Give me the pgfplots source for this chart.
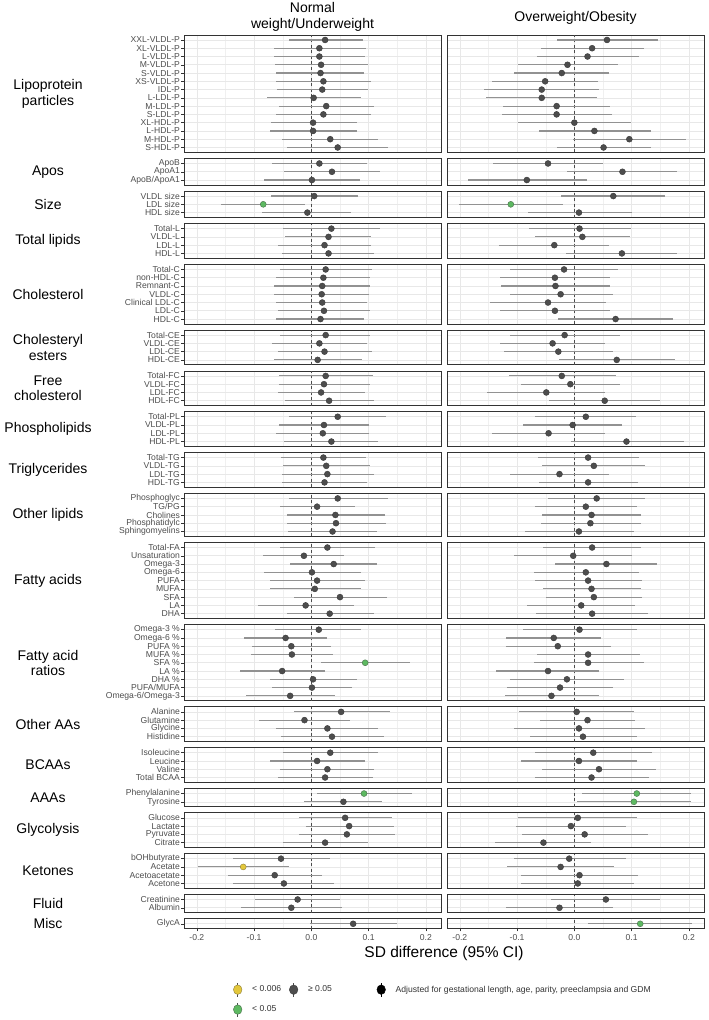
\documentclass[border=0pt]{standalone}
\usepackage{pgfplots}
\pgfplotsset{compat=1.18}
\usepackage{pgfplotstable}
\usepackage{fontspec}
\setmainfont{Liberation Sans}

\definecolor{ptgray}{HTML}{4D4D4D}
\definecolor{ptedge}{HTML}{3A3A3A}
\definecolor{cigray}{HTML}{929292}
\definecolor{sigg}{HTML}{5DB961}
\definecolor{sigy}{HTML}{E3C73B}
\definecolor{txtgray}{HTML}{4D4D4D}

\newcommand{\rowfont}{\fontsize{8.6}{8.6}\selectfont}
\newcommand{\grpfont}{\fontsize{14}{15.5}\selectfont}

\pgfplotsset{
  panel/.style={
    scale only axis, width=257pt, y=8.27pt,
    xmin=-0.2224, xmax=0.2264, ymin=0.4,
    anchor=north west,
    axis line style={draw=black!80, line width=0.9pt},
    xtick={-0.2,-0.1,0,0.1,0.2}, minor xtick={-0.15,-0.05,0.05,0.15},
    xticklabels={},
    xtick pos=bottom, ytick pos=left, tick align=outside,
    grid=both,
    major grid style={draw=black!9, line width=0.6pt},
    minor grid style={draw=black!6, line width=0.35pt},
    tick style={draw=none},
    major tick length=2.7pt, minor tick length=0pt,
    extra x ticks={0}, extra x tick labels={},
    extra x tick style={grid=major, major grid style={draw=black!70, dash pattern=on 3pt off 2.5pt, line width=0.55pt}},
    yticklabel style={font=\rowfont, color=txtgray, inner sep=1.2pt},
    xticklabel style={font=\rowfont, color=txtgray},
  },
  midpanel/.style={},
  botpanel/.style={xticklabels={-0.2,-0.1,0.0,0.1,0.2}, x tick style={draw=black!80, line width=0.5pt}},
  cibar/.style={only marks, mark=none, forget plot,
    error bars/.cd, x dir=both, x explicit, error mark=none,
    error bar style={draw=cigray, line width=1.15pt}},
  pts/.style={scatter, only marks, scatter src=explicit symbolic, mark size=3pt,
    scatter/classes={
      n={mark=*, draw=ptedge, fill=ptgray, line width=0.4pt},
      g={mark=*, draw=ptedge!60!sigg, fill=sigg, line width=0.4pt},
      y={mark=*, draw=ptedge!50!sigy, fill=sigy, line width=0.4pt}}},
}

\newcommand{\pp}[5]{%
  \pgfmathsetmacro{\ymx}{#2+0.6}
  \begin{axis}[panel, at={(184pt,-#3pt)}, ymax=\ymx, ytick={1,...,#2}, yticklabels={#4},
      y tick style={draw=black!80, line width=0.5pt}, #5]
    \addplot[cibar] table[x=a, y=y, x error plus expr=\thisrow{ahi}-\thisrow{a}, x error minus expr=\thisrow{a}-\thisrow{alo}] {#1};
    \addplot[pts] table[x=a, y=y, meta=as] {#1};
  \end{axis}
  \begin{axis}[panel, at={(447pt,-#3pt)}, ymax=\ymx, ytick={1,...,#2}, yticklabels={}, #5]
    \addplot[cibar] table[x=b, y=y, x error plus expr=\thisrow{bhi}-\thisrow{b}, x error minus expr=\thisrow{b}-\thisrow{blo}] {#1};
    \addplot[pts] table[x=b, y=y, meta=bs] {#1};
  \end{axis}}

% columns: y, Normal weight (a, alo, ahi, as), Overweight (b, blo, bhi, bs)
\pgfplotstableread{
y a alo ahi as b blo bhi bs
14 0.024 -0.039 0.091 n 0.057 -0.031 0.146 n
13 0.014 -0.066 0.095 n 0.031 -0.058 0.121 n
12 0.014 -0.065 0.093 n 0.023 -0.066 0.113 n
11 0.017 -0.064 0.099 n -0.012 -0.098 0.076 n
10 0.016 -0.061 0.092 n -0.022 -0.105 0.061 n
9 0.021 -0.061 0.105 n -0.051 -0.143 0.041 n
8 0.019 -0.060 0.099 n -0.057 -0.157 0.043 n
7 0.004 -0.078 0.087 n -0.057 -0.155 0.040 n
6 0.026 -0.056 0.109 n -0.031 -0.125 0.062 n
5 0.021 -0.062 0.104 n -0.031 -0.127 0.066 n
4 0.003 -0.071 0.080 n 0.000 -0.098 0.099 n
3 0.003 -0.072 0.080 n 0.035 -0.061 0.133 n
2 0.033 -0.051 0.117 n 0.096 -0.002 0.195 n
1 0.046 -0.042 0.134 n 0.051 -0.031 0.134 n
}\tLipo
\pgfplotstableread{
y a alo ahi as b blo bhi bs
3 0.014 -0.069 0.098 n -0.046 -0.142 0.050 n
2 0.036 -0.047 0.120 n 0.084 -0.012 0.180 n
1 0.001 -0.082 0.085 n -0.083 -0.186 0.022 n
}\tApos
\pgfplotstableread{
y a alo ahi as b blo bhi bs
3 0.005 -0.071 0.081 n 0.068 -0.023 0.159 n
2 -0.084 -0.157 -0.011 g -0.111 -0.202 -0.020 g
1 -0.007 -0.086 0.070 n 0.008 -0.081 0.100 n
}\tSize
\pgfplotstableread{
y a alo ahi as b blo bhi bs
4 0.035 -0.050 0.120 n 0.009 -0.079 0.099 n
3 0.030 -0.046 0.105 n 0.014 -0.069 0.098 n
2 0.023 -0.058 0.104 n -0.035 -0.131 0.060 n
1 0.030 -0.051 0.110 n 0.083 -0.015 0.180 n
}\tTL
\pgfplotstableread{
y a alo ahi as b blo bhi bs
7 0.025 -0.054 0.106 n -0.018 -0.113 0.076 n
6 0.021 -0.062 0.102 n -0.034 -0.130 0.062 n
5 0.019 -0.065 0.102 n -0.033 -0.128 0.062 n
4 0.018 -0.065 0.100 n -0.024 -0.113 0.067 n
3 0.019 -0.061 0.098 n -0.046 -0.148 0.056 n
2 0.022 -0.058 0.102 n -0.034 -0.130 0.063 n
1 0.016 -0.062 0.092 n 0.072 -0.028 0.172 n
}\tChol
\pgfplotstableread{
y a alo ahi as b blo bhi bs
4 0.025 -0.054 0.103 n -0.017 -0.112 0.079 n
3 0.014 -0.069 0.097 n -0.038 -0.130 0.054 n
2 0.023 -0.058 0.106 n -0.028 -0.122 0.067 n
1 0.011 -0.066 0.089 n 0.074 -0.026 0.175 n
}\tCE
\pgfplotstableread{
y a alo ahi as b blo bhi bs
4 0.025 -0.057 0.107 n -0.022 -0.115 0.072 n
3 0.022 -0.057 0.102 n -0.007 -0.093 0.080 n
2 0.017 -0.059 0.093 n -0.049 -0.153 0.054 n
1 0.031 -0.046 0.109 n 0.053 -0.045 0.150 n
}\tFC
\pgfplotstableread{
y a alo ahi as b blo bhi bs
4 0.046 -0.039 0.130 n 0.020 -0.068 0.108 n
3 0.022 -0.057 0.100 n -0.003 -0.090 0.083 n
2 0.020 -0.061 0.101 n -0.045 -0.143 0.053 n
1 0.035 -0.048 0.117 n 0.091 -0.006 0.191 n
}\tPL
\pgfplotstableread{
y a alo ahi as b blo bhi bs
4 0.021 -0.053 0.095 n 0.024 -0.063 0.113 n
3 0.026 -0.049 0.102 n 0.034 -0.056 0.124 n
2 0.028 -0.052 0.109 n -0.026 -0.113 0.061 n
1 0.023 -0.051 0.098 n 0.024 -0.062 0.111 n
}\tTG
\pgfplotstableread{
y a alo ahi as b blo bhi bs
5 0.046 -0.039 0.133 n 0.039 -0.046 0.124 n
4 0.010 -0.055 0.076 n 0.020 -0.069 0.109 n
3 0.042 -0.043 0.128 n 0.030 -0.056 0.117 n
2 0.043 -0.042 0.130 n 0.028 -0.059 0.116 n
1 0.037 -0.041 0.114 n 0.008 -0.087 0.104 n
}\tOL
\pgfplotstableread{
y a alo ahi as b blo bhi bs
9 0.028 -0.054 0.111 n 0.031 -0.055 0.117 n
8 -0.013 -0.084 0.057 n -0.002 -0.105 0.100 n
7 0.039 -0.037 0.115 n 0.056 -0.033 0.145 n
6 0.001 -0.083 0.086 n 0.020 -0.071 0.113 n
5 0.010 -0.072 0.093 n 0.024 -0.069 0.118 n
4 0.006 -0.073 0.086 n 0.030 -0.055 0.116 n
3 0.050 -0.031 0.132 n 0.034 -0.050 0.118 n
2 -0.010 -0.094 0.074 n 0.012 -0.083 0.106 n
1 0.032 -0.043 0.109 n 0.031 -0.067 0.128 n
}\tFA
\pgfplotstableread{
y a alo ahi as b blo bhi bs
9 0.013 -0.063 0.087 n 0.009 -0.090 0.110 n
8 -0.045 -0.117 0.027 n -0.036 -0.119 0.046 n
7 -0.035 -0.104 0.035 n -0.029 -0.120 0.064 n
6 -0.034 -0.105 0.038 n 0.024 -0.065 0.115 n
5 0.094 0.017 0.172 g 0.024 -0.071 0.121 n
4 -0.051 -0.125 0.023 n -0.046 -0.136 0.043 n
3 0.003 -0.072 0.080 n -0.013 -0.113 0.087 n
2 0.001 -0.069 0.071 n -0.025 -0.117 0.068 n
1 -0.037 -0.114 0.041 n -0.040 -0.121 0.043 n
}\tFAR
\pgfplotstableread{
y a alo ahi as b blo bhi bs
4 0.052 -0.031 0.138 n 0.004 -0.096 0.104 n
3 -0.012 -0.091 0.068 n 0.023 -0.060 0.106 n
2 0.028 -0.062 0.117 n 0.008 -0.105 0.123 n
1 0.036 -0.053 0.126 n 0.015 -0.077 0.109 n
}\tOAA
\pgfplotstableread{
y a alo ahi as b blo bhi bs
4 0.033 -0.049 0.116 n 0.033 -0.068 0.135 n
3 0.010 -0.072 0.093 n 0.008 -0.093 0.109 n
2 0.028 -0.055 0.110 n 0.043 -0.057 0.143 n
1 0.024 -0.059 0.108 n 0.030 -0.069 0.130 n
}\tBCAA
\pgfplotstableread{
y a alo ahi as b blo bhi bs
2 0.092 0.010 0.175 g 0.109 0.014 0.203 g
1 0.056 -0.012 0.124 n 0.104 0.004 0.203 g
}\tAAA
\pgfplotstableread{
y a alo ahi as b blo bhi bs
4 0.059 -0.021 0.141 n 0.006 -0.098 0.109 n
3 0.066 -0.010 0.144 n -0.006 -0.102 0.091 n
2 0.062 -0.022 0.146 n 0.018 -0.091 0.128 n
1 0.024 -0.050 0.099 n -0.054 -0.138 0.029 n
}\tGly
\pgfplotstableread{
y a alo ahi as b blo bhi bs
4 -0.053 -0.136 0.032 n -0.009 -0.106 0.091 n
3 -0.119 -0.198 -0.039 y -0.024 -0.117 0.070 n
2 -0.064 -0.146 0.019 n 0.009 -0.094 0.111 n
1 -0.048 -0.136 0.039 n 0.006 -0.093 0.105 n
}\tKet
\pgfplotstableread{
y a alo ahi as b blo bhi bs
2 -0.024 -0.098 0.050 n 0.055 -0.040 0.150 n
1 -0.035 -0.122 0.054 n -0.026 -0.119 0.068 n
}\tFluid
\pgfplotstableread{
y a alo ahi as b blo bhi bs
1 0.073 -0.003 0.150 n 0.115 0.023 0.206 g
}\tMisc

\begin{document}
\begin{tikzpicture}
\useasboundingbox (0pt,0pt) rectangle (709pt,-1020pt);

% column titles
\node[align=center, font=\fontsize{14}{16}\selectfont] at (312.5pt,-17pt) {Normal\\weight/Underweight};
\node[font=\fontsize{14}{16}\selectfont] at (575.5pt,-18.3pt) {Overweight/Obesity};

\pp{\tLipo}{14}{35.00}{S-HDL-P,M-HDL-P,L-HDL-P,XL-HDL-P,S-LDL-P,M-LDL-P,L-LDL-P,IDL-P,XS-VLDL-P,S-VLDL-P,M-VLDL-P,L-VLDL-P,XL-VLDL-P,XXL-VLDL-P}{midpanel}
\pp{\tApos}{3}{158.53}{ApoB/ApoA1,ApoA1,ApoB}{midpanel}
\pp{\tSize}{3}{191.09}{HDL size,LDL size,VLDL size}{midpanel}
\pp{\tTL}{4}{223.65}{HDL-L,LDL-L,VLDL-L,Total-L}{midpanel}
\pp{\tChol}{7}{264.48}{HDL-C,LDL-C,Clinical LDL-C,VLDL-C,Remnant-C,non-HDL-C,Total-C}{midpanel}
\pp{\tCE}{4}{330.12}{HDL-CE,LDL-CE,VLDL-CE,Total-CE}{midpanel}
\pp{\tFC}{4}{370.95}{HDL-FC,LDL-FC,VLDL-FC,Total-FC}{midpanel}
\pp{\tPL}{4}{411.78}{HDL-PL,LDL-PL,VLDL-PL,Total-PL}{midpanel}
\pp{\tTG}{4}{452.61}{HDL-TG,LDL-TG,VLDL-TG,Total-TG}{midpanel}
\pp{\tOL}{5}{493.44}{Sphingomyelins,Phosphatidylc,Cholines,TG/PG,Phosphoglyc}{midpanel}
\pp{\tFA}{9}{542.54}{DHA,LA,SFA,MUFA,PUFA,Omega-6,Omega-3,Unsaturation,Total-FA}{midpanel}
\pp{\tFAR}{9}{624.72}{Omega-6/Omega-3,PUFA/MUFA,DHA \%,LA \%,SFA \%,MUFA \%,PUFA \%,Omega-6 \%,Omega-3 \%}{midpanel}
\pp{\tOAA}{4}{706.90}{Histidine,Glycine,Glutamine,Alanine}{midpanel}
\pp{\tBCAA}{4}{747.73}{Total BCAA,Valine,Leucine,Isoleucine}{midpanel}
\pp{\tAAA}{2}{788.56}{Tyrosine,Phenylalanine}{midpanel}
\pp{\tGly}{4}{812.85}{Citrate,Pyruvate,Lactate,Glucose}{midpanel}
\pp{\tKet}{4}{853.68}{Acetone,Acetoacetate,Acetate,bOHbutyrate}{midpanel}
\pp{\tFluid}{2}{894.51}{Albumin,Creatinine}{midpanel}
\pp{\tMisc}{1}{918.80}{GlycA}{botpanel}

% group labels
\begin{scope}[every node/.style={align=center, font=\grpfont}]
\node at (48pt,-93.72pt) {Lipoprotein\\particles};
\node at (48pt,-171.76pt) {Apos};
\node at (48pt,-204.32pt) {Size};
\node at (48pt,-241.02pt) {Total lipids};
\node at (48pt,-294.25pt) {Cholesterol};
\node at (48pt,-347.49pt) {Cholesteryl\\esters};
\node at (48pt,-388.32pt) {Free\\cholesterol};
\node at (48pt,-429.15pt) {Phospholipids};
\node at (48pt,-469.98pt) {Triglycerides};
\node at (48pt,-514.94pt) {Other lipids};
\node at (48pt,-580.58pt) {Fatty acids};
\node at (48pt,-662.76pt) {Fatty acid\\ratios};
\node at (48pt,-724.27pt) {Other AAs};
\node at (48pt,-765.10pt) {BCAAs};
\node at (48pt,-797.66pt) {AAAs};
\node at (48pt,-830.22pt) {Glycolysis};
\node at (48pt,-871.05pt) {Ketones};
\node at (48pt,-903.61pt) {Fluid};
\node at (48pt,-923.76pt) {Misc};
\end{scope}

% axis title
\node[font=\fontsize{15.5}{17}\selectfont] at (444pt,-953pt) {SD difference (95\% CI)};

% legends
\begin{axis}[hide axis, scale only axis, width=1pt, height=1pt, xmin=0, xmax=1, ymin=0, ymax=1,
  at={(233pt,-982pt)}, anchor=south west,
  legend columns=2,
  legend style={at={(0,0)}, anchor=north west, draw=none, fill=none, inner sep=0pt,
    font=\rowfont, text=black!80, row sep=5pt,
    /tikz/every odd column/.append style={column sep=8pt},
    /tikz/every even column/.append style={column sep=6pt},
    legend cell align=left}]
  \addlegendimage{legend image code/.code={\draw[line width=0.9pt, ptgray] (4.5pt,-7pt) -- (4.5pt,7pt); \draw[fill=sigy, draw=ptedge!50!sigy, line width=0.4pt] (4.5pt,0pt) ellipse[x radius=4.3pt, y radius=4.8pt];}}
  \addlegendentry{< 0.006}
  \addlegendimage{legend image code/.code={\draw[line width=0.9pt, ptgray] (4.5pt,-7pt) -- (4.5pt,7pt); \draw[fill=ptgray, draw=ptedge, line width=0.4pt] (4.5pt,0pt) ellipse[x radius=4.3pt, y radius=4.8pt];}}
  \addlegendentry{≥ 0.05}
  \addlegendimage{legend image code/.code={\draw[line width=0.9pt, ptgray] (4.5pt,-7pt) -- (4.5pt,7pt); \draw[fill=sigg, draw=ptedge!60!sigg, line width=0.4pt] (4.5pt,0pt) ellipse[x radius=4.3pt, y radius=4.8pt];}}
  \addlegendentry{< 0.05}
\end{axis}
\begin{axis}[hide axis, scale only axis, width=1pt, height=1pt, xmin=0, xmax=1, ymin=0, ymax=1,
  at={(376.5pt,-982pt)}, anchor=south west,
  legend style={at={(0,0)}, anchor=north west, draw=none, fill=none, inner sep=0pt,
    font=\rowfont, text=black!80,
    /tikz/every odd column/.append style={column sep=8pt},
    legend cell align=left}]
  \addlegendimage{legend image code/.code={\draw[line width=0.9pt, black] (4.5pt,-7pt) -- (4.5pt,7pt); \fill[black] (4.5pt,0pt) ellipse[x radius=4.3pt, y radius=4.8pt];}}
  \addlegendentry{Adjusted for gestational length, age, parity, preeclampsia and GDM}
\end{axis}
\end{tikzpicture}
\end{document}
